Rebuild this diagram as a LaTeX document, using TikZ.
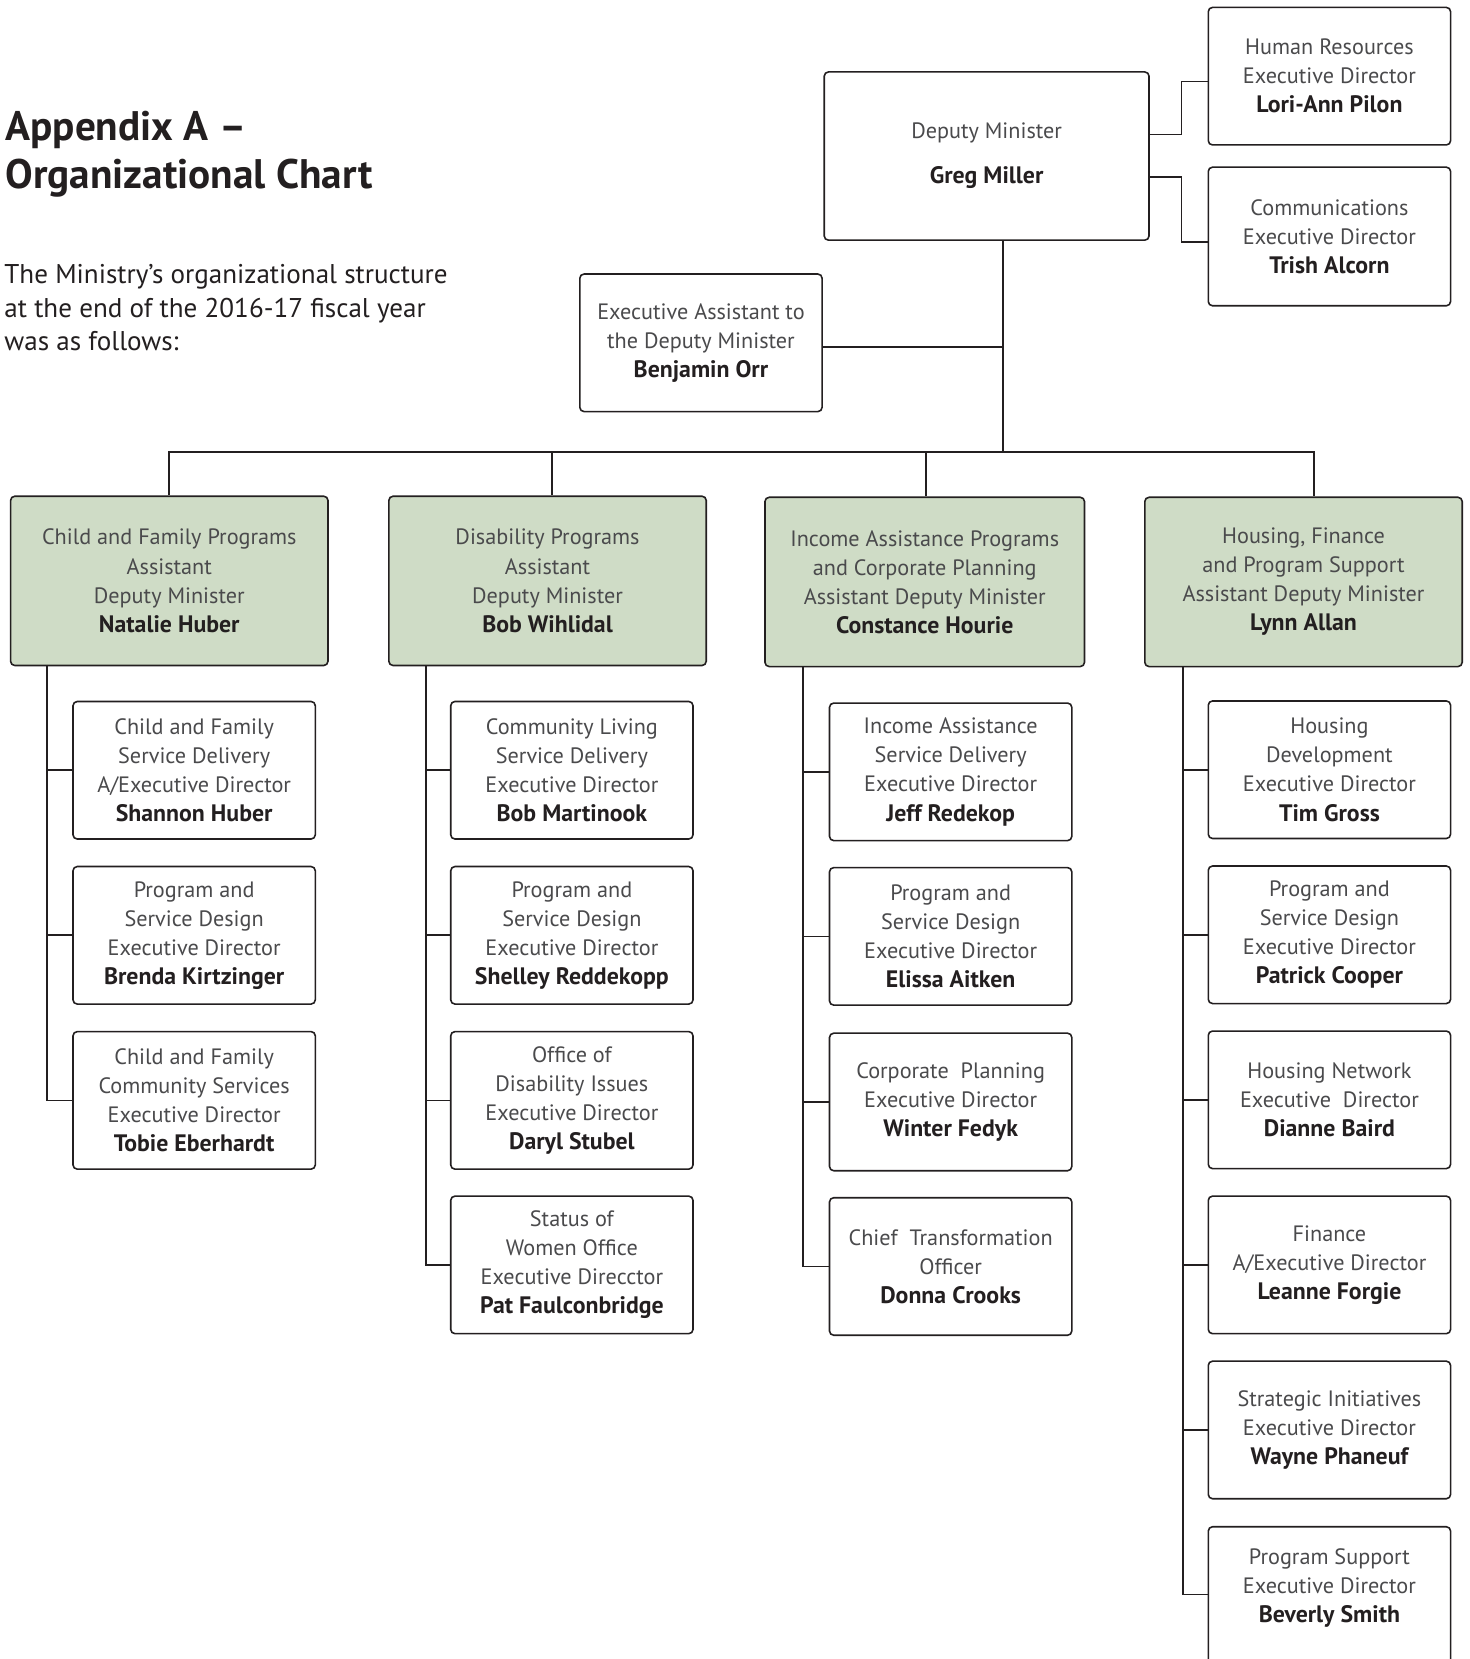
\documentclass[tikz,border=0pt]{standalone}
\usepackage{fontspec}
\setmainfont{PT Sans}
\definecolor{ink}{HTML}{231F20}
\definecolor{lite}{HTML}{4A4A4C}
\definecolor{sage}{HTML}{CFDCC6}
\tikzset{
  box/.style={draw=ink, line width=1.5pt, rounded corners=4pt, align=center, inner sep=0pt,
    font=\fontsize{21}{27.5}\selectfont, text=lite, minimum width=229pt, minimum height=130pt},
  boxtext/.style={align=center, inner sep=0pt, font=\fontsize{21}{27.5}\selectfont, text=lite},
  admbox/.style={box, fill=sage, minimum width=300pt, minimum height=160pt},
  conn/.style={draw=ink, line width=1.6pt},
  ttl/.style={anchor=base west, inner sep=0pt, text=ink, font=\fontsize{39}{45}\selectfont\bfseries},
  para/.style={anchor=base west, inner sep=0pt, text=ink, font=\fontsize{25.6}{31.5}\selectfont},
}
\newcommand\nm[1]{{\fontsize{22.5}{27.5}\selectfont\bfseries\color{ink}#1}}
\begin{document}
\begin{tikzpicture}[x=1pt,y=-1pt]
\path[use as bounding box] (0,0) rectangle (1389,1568);
\clip (0,0) rectangle (1389,1568);
\fill[white] (0,0) rectangle (1389,1568);

% title and intro
\node[ttl] (t1) at (5,133) {Appendix A –};
\node[ttl] (t2) at (5,178) {Organizational Chart};
\node[para] (p1) at (4,268) {The Ministry’s organizational structure};
\node[para] (p2) at (4,300) {at the end of the 2016-17 fiscal year};
\node[para] (p3) at (4,331) {was as follows:};

% top level
\node[box, minimum width=307pt, minimum height=159pt] (dm) at (932.5,147.5) {Deputy Minister\\[15pt]\nm{Greg Miller}};
\node[box] (hr) at (1256.5,72) {Human Resources\\Executive Director\\\nm{Lori-Ann Pilon}};
\node[box, minimum height=131pt] (com) at (1256.5,223.5) {Communications\\Executive Director\\\nm{Trish Alcorn}};
\node[box] (ea) at (662.5,324) {Executive Assistant to\\the Deputy Minister\\\nm{Benjamin Orr}};

% ADMs
\node[admbox] (adm1) at (160,549) {Child and Family Programs\\Assistant\\Deputy Minister\\\nm{Natalie Huber}};
\node[admbox] (adm2) at (517.5,549) {Disability Programs\\Assistant\\Deputy Minister\\\nm{Bob Wihlidal}};
\node[admbox, minimum width=302pt] (adm3) at (874,550) {Income Assistance Programs\\and Corporate Planning\\Assistant Deputy Minister\\\nm{Constance Hourie}};
\node[admbox] (adm4) at (1232,550) {Housing, Finance\\and Program Support\\Assistant Deputy Minister\\\nm{Lynn Allan}};

% column 1
\node[box] (c1a) at (183.5,728) {Child and Family\\Service Delivery\\A/Executive Director\\\nm{Shannon Huber}};
\node[box] (c1b) at (183.5,884) {Program and\\Service Design\\Executive Director\\\nm{Brenda Kirtzinger}};
\node[box] (c1c) at (183.5,1040) {Child and Family\\Community Services\\Executive Director\\\nm{Tobie Eberhardt}};

% column 2
\node[box] (c2a) at (540.5,728) {Community Living\\Service Delivery\\Executive Director\\\nm{Bob Martinook}};
\node[box] (c2b) at (540.5,884) {Program and\\Service Design\\Executive Director\\\nm{Shelley Reddekopp}};
\node[box] (c2c) at (540.5,1040) {Office of\\Disability Issues\\Executive Director\\\nm{Daryl Stubel}};
\node[box] (c2d) at (540.5,1195.5) {Status of\\Women Office\\Executive Direcctor\\\nm{Pat Faulconbridge}};

% column 3
\node[box] (c3a) at (898.5,729.5) {Income Assistance\\Service Delivery\\Executive Director\\\nm{Jeff Redekop}};
\node[box] (c3b) at (898.5,885) {Program and\\Service Design\\Executive Director\\\nm{Elissa Aitken}};
\node[box] (c3c) at (898.5,1041.5) {Corporate\ \ Planning\\Executive Director\\\nm{Winter Fedyk}};
\node[box] (c3d) at (898.5,1197) {Chief\ \ Transformation\\Officer\\\nm{Donna Crooks}};

% column 4
\node[box] (c4a) at (1256.5,727.5) {Housing\\Development\\Executive Director\\\nm{Tim Gross}};
\node[box] (c4b) at (1256.5,883.5) {Program and\\Service Design\\Executive Director\\\nm{Patrick Cooper}};
\node[box] (c4c) at (1256.5,1039.5) {Housing Network\\Executive\ \ Director\\\nm{Dianne Baird}};
\node[box] (c4d) at (1256.5,1195.5) {Finance\\A/Executive Director\\\nm{Leanne Forgie}};
\node[box] (c4e) at (1256.5,1351.5) {Strategic Initiatives\\Executive Director\\\nm{Wayne Phaneuf}};
\node[box] (c4f) at (1256.5,1508) {};
\node[boxtext] (c4ft) at ([yshift=7pt]c4f.center) {Program Support\\Executive Director\\\nm{Beverly Smith}};

% connectors at top
\draw[conn] ([yshift=20.5pt]dm.east) -- ++(30,0) |- ([yshift=-5pt]hr.west);
\draw[conn] ([yshift=-19.5pt]dm.east) -- ++(30,0) |- ([yshift=-5.5pt]com.west);
\coordinate (bus) at (948,427);
\draw[conn] ([xshift=15.5pt]dm.south) -- (bus);
\draw[conn] ([yshift=-4pt]ea.east) -- ([yshift=-4pt]ea.east -| bus);
\draw[conn] (adm1.north) -- (adm1.north |- bus) -- ([xshift=10pt]adm4.north |- bus) -- ([xshift=10pt]adm4.north);
\draw[conn] ([xshift=4.5pt]adm2.north) -- ([xshift=4.5pt]adm2.north |- bus);
\draw[conn] ([xshift=1pt]adm3.north) -- ([xshift=1pt]adm3.north |- bus);

% column connectors
\foreach \c in {c1a,c1b,c1c} \draw[conn] ([xshift=35pt]adm1.south west) |- (\c.west);
\foreach \c in {c2a,c2b,c2c,c2d} \draw[conn] ([xshift=36pt]adm2.south west) |- (\c.west);
\foreach \c in {c3a,c3b,c3c,c3d} \draw[conn] ([xshift=37pt]adm3.south west) |- (\c.west);
\foreach \c in {c4a,c4b,c4c,c4d,c4e} \draw[conn] ([xshift=37pt]adm4.south west) |- (\c.west);
\draw[conn] ([xshift=37pt]adm4.south west) |- ([yshift=1pt]c4f.west);
\end{tikzpicture}
\end{document}
